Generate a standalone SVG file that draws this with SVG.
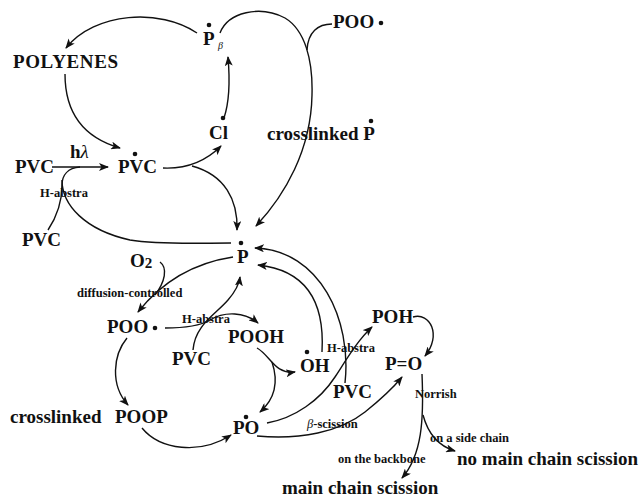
<svg xmlns="http://www.w3.org/2000/svg" width="644" height="498" viewBox="0 0 644 498">
<style>
text{font-family:"Liberation Serif","Times New Roman",serif;font-weight:bold;fill:#111}
.n{font-size:19px}
.s{font-size:12.5px}
.it{font-style:italic;font-weight:normal}
.dot{fill:#111}
.c path{fill:none;stroke:#111;stroke-width:1.4}
.c .a{marker-end:url(#ah)}
</style>
<defs>
<marker id="ah" viewBox="0 0 10 8" refX="9" refY="4" markerWidth="10" markerHeight="8" markerUnits="userSpaceOnUse" orient="auto">
<path d="M0,0 L10,4 L0,8 L2.5,4 Z" fill="#111"/>
</marker>
</defs>
<rect width="644" height="498" fill="#fff"/>

<g id="polyenes"><text class="n" x="13" y="68" textLength="105">POLYENES</text></g>
<g id="p-beta"><circle class="dot" cx="209" cy="25" r="2.3"/><text class="n" x="203" y="45">P</text><text class="it" x="218" y="49" font-size="10">β</text></g>
<g id="cl"><circle class="dot" cx="223" cy="118" r="2.3"/><text class="n" x="209" y="139">Cl</text></g>
<g id="crosslinked-p"><circle class="dot" cx="371" cy="121" r="2.3"/><text class="n" x="267" y="140">crosslinked P</text></g>
<g id="poo-top"><text class="n" x="333" y="28">POO</text><circle class="dot" cx="381" cy="23" r="2.3"/></g>
<g id="pvc-left"><text class="n" x="15" y="173">PVC</text></g>
<g id="pvc-rad"><circle class="dot" cx="135" cy="154" r="2.3"/><text class="n" x="118" y="173">PVC</text></g>
<g id="pvc-bl"><text class="n" x="22" y="246">PVC</text></g>
<g id="p-rad"><circle class="dot" cx="241" cy="243" r="2.3"/><text class="n" x="237" y="263">P</text></g>
<g id="o2"><text class="n" x="130" y="267">O<tspan font-size="15" dy="1">2</tspan></text></g>
<g id="poo-mid"><text class="n" x="107" y="333">POO</text><circle class="dot" cx="155" cy="328" r="2.3"/></g>
<g id="pooh"><text class="n" x="228" y="343">POOH</text></g>
<g id="pvc-mid"><text class="n" x="172" y="365">PVC</text></g>
<g id="oh"><circle class="dot" cx="307" cy="352" r="2.3"/><text class="n" x="300" y="372">OH</text></g>
<g id="poh"><text class="n" x="372" y="323">POH</text></g>
<g id="p-o"><text class="n" x="385" y="370">P=O</text></g>
<g id="pvc-right"><text class="n" x="333" y="398">PVC</text></g>
<g id="poop"><text class="n" x="10" y="423">crosslinked</text><text class="n" x="115" y="423">POOP</text></g>
<g id="po"><circle class="dot" cx="246" cy="417" r="2.3"/><text class="n" x="233" y="434">PO</text></g>
<g id="no-main"><text class="n" x="457" y="465">no main chain scission</text></g>
<g id="main"><text class="n" x="282" y="494">main chain scission</text></g>

<g id="connectors" class="c">
<path class="a" d="M197,33 C160,8 95,12 66,48"/>
<path class="a" d="M65,74 C65,115 85,138 120,148"/>
<path class="a" d="M52,167 L108,167"/>
<path d="M48,230 C58,215 62,200 62,185 C62,175 68,168 80,167"/>
<path d="M62,180 C62,205 85,230 130,240 C160,245 200,243 231,243"/>
<path class="a" d="M163,168 C185,169 205,162 221,146"/>
<path class="a" d="M192,166 C225,175 238,200 237,230"/>
<path class="a" d="M224,118 C230,100 230,80 228,57"/>
<path class="a" d="M220,33 C228,12 260,5 285,18 C305,30 313,60 312,95 C311,150 285,195 256,226"/>
<path d="M332,24 C318,24 308,32 307,50"/>
<path class="a" d="M233,257 C200,262 165,278 138,312"/>
<path d="M160,262 C168,268 165,282 155,295"/>
<path class="a" d="M193,350 C195,325 215,315 228,300 C235,292 239,285 240,277"/>
<path class="a" d="M165,328 C185,328 200,326 210,320 C225,311 245,312 258,323"/>
<path class="a" d="M127,338 C113,355 110,385 128,405"/>
<path class="a" d="M142,428 C160,450 200,455 231,435"/>
<path class="a" d="M257,348 C270,355 275,375 295,372"/>
<path class="a" d="M272,362 C278,380 276,398 260,412"/>
<path class="a" d="M322,352 C325,300 305,270 258,265"/>
<path class="a" d="M345,383 C352,320 320,250 255,248"/>
<path class="a" d="M267,423 C295,418 320,400 335,377 C348,357 358,340 372,327"/>
<path class="a" d="M257,436 C300,440 340,432 365,412 C380,400 393,388 402,377"/>
<path class="a" d="M413,317 C430,312 442,335 425,356"/>
<path class="a" d="M422,374 C424,420 422,455 402,478"/>
<path class="a" d="M423,415 C427,430 435,445 455,451"/>
</g>

<g id="labels">
<text class="n" x="70" y="158">h<tspan class="it">λ</tspan></text>
<text class="s" x="40" y="197">H-abstra</text>
<text class="s" x="77" y="297">diffusion-controlled</text>
<text class="s" x="182" y="323">H-abstra</text>
<text class="s" x="327" y="352">H-abstra</text>
<text class="s" x="307" y="428"><tspan class="it">β</tspan>-scission</text>
<text class="s" x="415" y="398">Norrish</text>
<text class="s" x="430" y="442">on a side chain</text>
<text class="s" x="338" y="463">on the backbone</text>
</g>
</svg>
